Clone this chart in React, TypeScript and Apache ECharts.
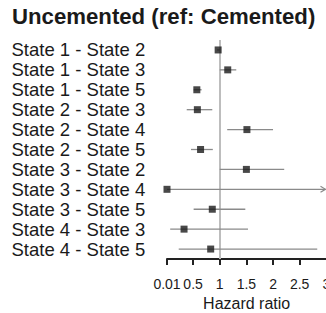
import React, { useEffect, useRef } from "react";
import * as echarts from "echarts";

const titleText = "Uncemented (ref: Cemented)";
const labels = [
  "State 1 - State 2",
  "State 1 - State 3",
  "State 1 - State 5",
  "State 2 - State 3",
  "State 2 - State 4",
  "State 2 - State 5",
  "State 3 - State 2",
  "State 3 - State 4",
  "State 3 - State 5",
  "State 4 - State 3",
  "State 4 - State 5",
];
const hr = [0.97, 1.15, 0.57, 0.58, 1.51, 0.64, 1.5, 0.01, 0.86, 0.33, 0.83];
const lower = [0.95, 1.0, 0.51, 0.38, 1.14, 0.46, 1.0, 0.01, 0.51, 0.07, 0.23];
const upper = [1.0, 1.31, 0.66, 0.86, 2.0, 0.87, 2.21, 20, 1.48, 1.53, 2.83];
const tickValues = [0.01, 0.5, 1, 1.5, 2, 2.5, 3];
const xMin = 0.01;
const xMax = 3;

const FONT = "'Liberation Sans', Arial, sans-serif";

export default function App() {
  const ref = useRef<HTMLDivElement>(null);
  useEffect(() => {
    if (!ref.current) return;
    const chart = echarts.init(ref.current, undefined, { renderer: "svg" });
    const ciData = labels.map((_, i) => [lower[i], upper[i], i]);
    const pointData = labels.map((_, i) => [hr[i], i]);
    chart.setOption({
      animation: false,
      backgroundColor: "#ffffff",
      title: {
        text: titleText,
        left: 7,
        top: 0,
        textStyle: { fontFamily: FONT, fontSize: 22.2, fontWeight: "bold", color: "#1a1a1a" },
      },
      grid: {
        left: 167,
        top: 40,
        width: 159.3,
        height: 219,
        containLabel: false,
        outerBoundsMode: "none",
      },
      xAxis: {
        type: "value",
        min: xMin,
        max: xMax,
        name: "Hazard ratio",
        nameLocation: "middle",
        nameGap: 36,
        nameTextStyle: { fontFamily: FONT, fontSize: 16, color: "#1a1a1a" },
        splitLine: { show: false },
        axisLine: { show: true, lineStyle: { color: "#222", width: 2 } },
        axisTick: { show: true, length: 6, lineStyle: { color: "#222", width: 2 }, customValues: tickValues },
        axisLabel: {
          customValues: tickValues,
          margin: 17.5,
          fontFamily: FONT,
          fontSize: 14,
          color: "#1a1a1a",
          hideOverlap: false,
          formatter: (v: number) => String(v),
        },
      },
      yAxis: {
        type: "category",
        data: labels,
        inverse: true,
        axisLine: { show: false },
        axisTick: { show: false },
        splitLine: { show: false },
        axisLabel: {
          interval: 0,
          align: "left",
          margin: 155.5,
          fontFamily: FONT,
          fontSize: 18.5,
          color: "#1a1a1a",
        },
      },
      series: [
        {
          type: "custom",
          z: 3,
          silent: true,
          clip: false,
          data: ciData,
          renderItem: (params: any, api: any) => {
            const lo = Math.max(api.value(0), xMin);
            const hiRaw = api.value(1);
            const hi = Math.min(hiRaw, xMax);
            const idx = api.value(2);
            const p1 = api.coord([lo, idx]);
            const p2 = api.coord([hi, idx]);
            const over = hiRaw > xMax;
            const tip = over ? Math.min(p2[0], 325.5) : p2[0];
            const children: any[] = [
              {
                type: "line",
                shape: { x1: p1[0], y1: p1[1], x2: tip, y2: p2[1] },
                style: { stroke: "#8a8a8a", lineWidth: 1.3 },
              },
            ];
            if (over) {
              children.push({
                type: "polyline",
                shape: { points: [[tip - 5, p2[1] - 3], [tip, p2[1]], [tip - 5, p2[1] + 3]] },
                style: { stroke: "#8a8a8a", lineWidth: 1.2, fill: "none" },
              });
            }
            return { type: "group", children };
          },
        },
        {
          type: "scatter",
          z: 4,
          symbol: "rect",
          symbolSize: 7,
          itemStyle: { color: "#1a1a1a" },
          data: pointData,
          markLine: {
            silent: true,
            symbol: "none",
            z: 1,
            label: { show: false },
            lineStyle: { color: "#bdbdbd", width: 2, type: "solid" },
            data: [{ xAxis: 1 }],
          },
        },
      ],
    });
    return () => chart.dispose();
  }, []);
  return (
    <div
      ref={ref}
      style={{ position: "fixed", left: 0, top: 0, width: 326, height: 313 }}
    />
  );
}
